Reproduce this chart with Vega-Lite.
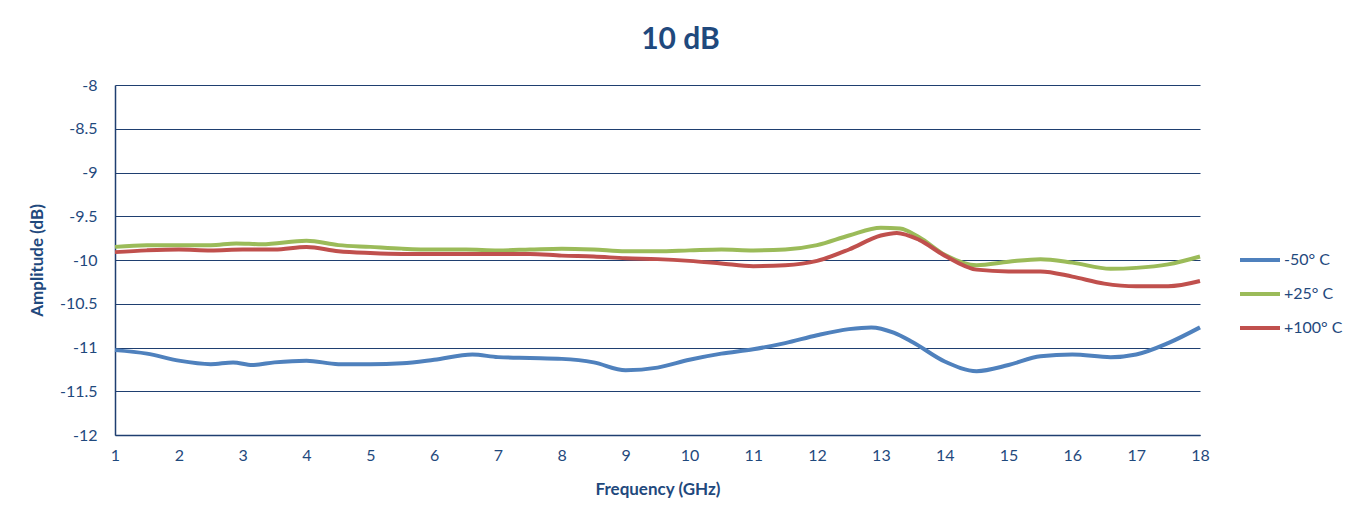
{
  "$schema": "https://vega.github.io/schema/vega-lite/v6.json",
  "autosize": {"type": "none"},
  "width": 1085,
  "height": 350,
  "padding": {"left": 115, "top": 85, "right": 161, "bottom": 86},
  "background": "white",
  "title": {"text": "10 dB", "fontSize": 30, "fontWeight": "bold", "color": "#1F497D", "font": "Lato", "offset": 22, "dx": 23, "anchor": "middle"},
  "data": {"values": [
    {"f": 1, "s": "-50° C", "v": -11.03}, {"f": 1.5, "s": "-50° C", "v": -11.07}, {"f": 2, "s": "-50° C", "v": -11.15}, {"f": 2.5, "s": "-50° C", "v": -11.19}, {"f": 2.85, "s": "-50° C", "v": -11.17}, {"f": 3.15, "s": "-50° C", "v": -11.2}, {"f": 3.5, "s": "-50° C", "v": -11.17}, {"f": 4, "s": "-50° C", "v": -11.15}, {"f": 4.5, "s": "-50° C", "v": -11.19}, {"f": 5, "s": "-50° C", "v": -11.19}, {"f": 5.5, "s": "-50° C", "v": -11.18}, {"f": 6, "s": "-50° C", "v": -11.14}, {"f": 6.6, "s": "-50° C", "v": -11.08}, {"f": 7, "s": "-50° C", "v": -11.11}, {"f": 7.5, "s": "-50° C", "v": -11.12}, {"f": 8, "s": "-50° C", "v": -11.13}, {"f": 8.5, "s": "-50° C", "v": -11.17}, {"f": 9, "s": "-50° C", "v": -11.26}, {"f": 9.5, "s": "-50° C", "v": -11.23}, {"f": 10, "s": "-50° C", "v": -11.14}, {"f": 10.5, "s": "-50° C", "v": -11.07}, {"f": 11, "s": "-50° C", "v": -11.02}, {"f": 11.5, "s": "-50° C", "v": -10.95}, {"f": 12, "s": "-50° C", "v": -10.86}, {"f": 12.5, "s": "-50° C", "v": -10.79}, {"f": 12.85, "s": "-50° C", "v": -10.77}, {"f": 13.2, "s": "-50° C", "v": -10.83}, {"f": 13.5, "s": "-50° C", "v": -10.94}, {"f": 14, "s": "-50° C", "v": -11.16}, {"f": 14.5, "s": "-50° C", "v": -11.27}, {"f": 15, "s": "-50° C", "v": -11.2}, {"f": 15.5, "s": "-50° C", "v": -11.1}, {"f": 16, "s": "-50° C", "v": -11.08}, {"f": 16.6, "s": "-50° C", "v": -11.11}, {"f": 17, "s": "-50° C", "v": -11.08}, {"f": 17.5, "s": "-50° C", "v": -10.95}, {"f": 18, "s": "-50° C", "v": -10.77},
    {"f": 1, "s": "+25° C", "v": -9.85}, {"f": 1.5, "s": "+25° C", "v": -9.83}, {"f": 2, "s": "+25° C", "v": -9.83}, {"f": 2.5, "s": "+25° C", "v": -9.83}, {"f": 2.9, "s": "+25° C", "v": -9.81}, {"f": 3.3, "s": "+25° C", "v": -9.82}, {"f": 4, "s": "+25° C", "v": -9.78}, {"f": 4.5, "s": "+25° C", "v": -9.83}, {"f": 5, "s": "+25° C", "v": -9.85}, {"f": 5.5, "s": "+25° C", "v": -9.87}, {"f": 6, "s": "+25° C", "v": -9.88}, {"f": 6.5, "s": "+25° C", "v": -9.88}, {"f": 7, "s": "+25° C", "v": -9.89}, {"f": 7.5, "s": "+25° C", "v": -9.88}, {"f": 8, "s": "+25° C", "v": -9.87}, {"f": 8.5, "s": "+25° C", "v": -9.88}, {"f": 9, "s": "+25° C", "v": -9.9}, {"f": 9.5, "s": "+25° C", "v": -9.9}, {"f": 10, "s": "+25° C", "v": -9.89}, {"f": 10.5, "s": "+25° C", "v": -9.88}, {"f": 11, "s": "+25° C", "v": -9.89}, {"f": 11.5, "s": "+25° C", "v": -9.88}, {"f": 12, "s": "+25° C", "v": -9.83}, {"f": 12.5, "s": "+25° C", "v": -9.72}, {"f": 13, "s": "+25° C", "v": -9.63}, {"f": 13.3, "s": "+25° C", "v": -9.64}, {"f": 13.6, "s": "+25° C", "v": -9.74}, {"f": 14, "s": "+25° C", "v": -9.94}, {"f": 14.5, "s": "+25° C", "v": -10.06}, {"f": 15, "s": "+25° C", "v": -10.02}, {"f": 15.5, "s": "+25° C", "v": -9.99}, {"f": 16, "s": "+25° C", "v": -10.03}, {"f": 16.6, "s": "+25° C", "v": -10.1}, {"f": 17, "s": "+25° C", "v": -10.09}, {"f": 17.5, "s": "+25° C", "v": -10.05}, {"f": 18, "s": "+25° C", "v": -9.96},
    {"f": 1, "s": "+100° C", "v": -9.91}, {"f": 1.5, "s": "+100° C", "v": -9.89}, {"f": 2, "s": "+100° C", "v": -9.88}, {"f": 2.5, "s": "+100° C", "v": -9.89}, {"f": 3, "s": "+100° C", "v": -9.88}, {"f": 3.5, "s": "+100° C", "v": -9.88}, {"f": 4, "s": "+100° C", "v": -9.85}, {"f": 4.5, "s": "+100° C", "v": -9.9}, {"f": 5, "s": "+100° C", "v": -9.92}, {"f": 5.5, "s": "+100° C", "v": -9.93}, {"f": 6, "s": "+100° C", "v": -9.93}, {"f": 6.5, "s": "+100° C", "v": -9.93}, {"f": 7, "s": "+100° C", "v": -9.93}, {"f": 7.5, "s": "+100° C", "v": -9.93}, {"f": 8, "s": "+100° C", "v": -9.95}, {"f": 8.5, "s": "+100° C", "v": -9.96}, {"f": 9, "s": "+100° C", "v": -9.98}, {"f": 9.5, "s": "+100° C", "v": -9.99}, {"f": 10, "s": "+100° C", "v": -10.01}, {"f": 10.5, "s": "+100° C", "v": -10.04}, {"f": 11, "s": "+100° C", "v": -10.07}, {"f": 11.5, "s": "+100° C", "v": -10.06}, {"f": 12, "s": "+100° C", "v": -10.01}, {"f": 12.5, "s": "+100° C", "v": -9.88}, {"f": 13, "s": "+100° C", "v": -9.72}, {"f": 13.25, "s": "+100° C", "v": -9.69}, {"f": 13.6, "s": "+100° C", "v": -9.77}, {"f": 14, "s": "+100° C", "v": -9.95}, {"f": 14.5, "s": "+100° C", "v": -10.11}, {"f": 15, "s": "+100° C", "v": -10.13}, {"f": 15.5, "s": "+100° C", "v": -10.13}, {"f": 16, "s": "+100° C", "v": -10.19}, {"f": 16.5, "s": "+100° C", "v": -10.27}, {"f": 17, "s": "+100° C", "v": -10.3}, {"f": 17.5, "s": "+100° C", "v": -10.3}, {"f": 18, "s": "+100° C", "v": -10.24}
  ]},
  "mark": {"type": "line", "interpolate": "monotone", "strokeWidth": 4},
  "encoding": {
    "x": {"field": "f", "type": "quantitative", "title": "Frequency (GHz)",
      "scale": {"domain": [1, 18], "nice": false, "zero": false},
      "axis": {"values": [1,2,3,4,5,6,7,8,9,10,11,12,13,14,15,16,17,18], "grid": false, "ticks": false, "labelPadding": 12, "titlePadding": 18, "labelFlush": false}},
    "y": {"field": "v", "type": "quantitative", "title": "Amplitude (dB)",
      "scale": {"domain": [-12, -8], "nice": false, "zero": false},
      "axis": {"values": [-12,-11.5,-11,-10.5,-10,-9.5,-9,-8.5,-8], "labelExpr": "toString(datum.value)", "ticks": false, "labelPadding": 18, "titlePadding": 13}},
    "color": {"field": "s", "type": "nominal", "sort": ["-50° C", "+25° C", "+100° C"],
      "scale": {"domain": ["-50° C", "+25° C", "+100° C"], "range": ["#4F81BD", "#9BBB59", "#C0504D"]},
      "legend": {"title": null, "orient": "none", "legendX": 1123, "legendY": 153, "symbolType": "stroke", "symbolSize": 1600, "symbolStrokeWidth": 4, "labelFontSize": 16, "labelOffset": 2, "rowPadding": 4, "labelColor": "#1F497D", "labelFont": "Lato"}}
  },
  "config": {
    "view": {"stroke": null},
    "font": "Lato",
    "axis": {"labelFont": "Lato", "titleFont": "Lato", "labelFontSize": 16, "titleFontSize": 17, "titleFontWeight": "bold", "labelColor": "#1F497D", "titleColor": "#1F497D", "domainColor": "#1F3F70", "domainWidth": 1.5, "gridColor": "#1F3F70", "gridWidth": 1.2, "gridOpacity": 1}
  }
}
